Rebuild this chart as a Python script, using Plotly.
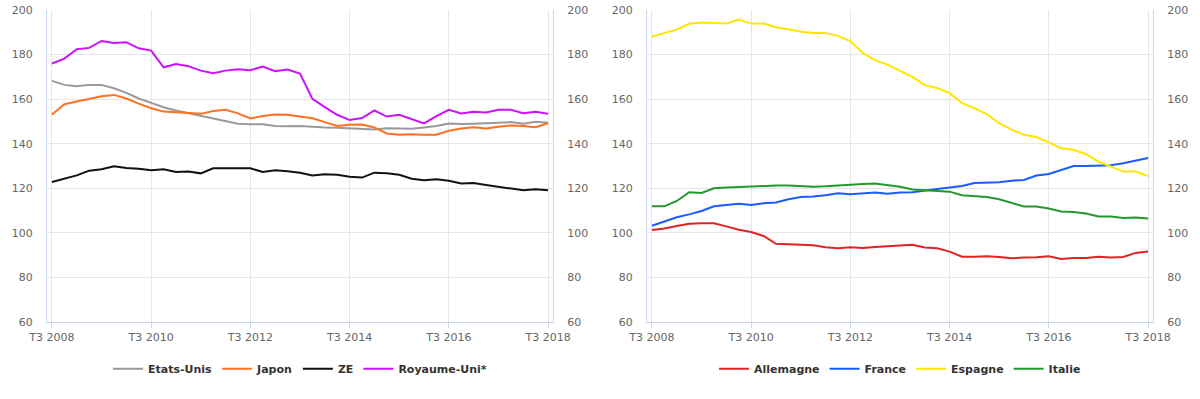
import plotly.graph_objects as go

quarters = list(range(41))
tick_pos = [0, 8, 16, 24, 32, 40]
tick_labels = ["T3 2008", "T3 2010", "T3 2012", "T3 2014", "T3 2016", "T3 2018"]

etats_unis = [168.2, 166.4, 165.8, 166.4, 166.4, 164.9, 162.8, 160.3, 158.3, 156.4,
              154.9, 153.7, 152.6, 151.6, 150.2, 149.0, 148.7, 148.7, 148.0, 147.8,
              148.0, 147.6, 147.3, 147.2, 146.9, 146.7, 146.4, 146.9, 146.9, 146.7,
              147.3, 148.0, 149.1, 148.8, 149.0, 149.3, 149.4, 149.7, 149.0, 149.9, 149.4]
japon = [153.1, 157.7, 158.9, 160.1, 161.3, 161.9, 160.3, 158.0, 155.9, 154.4,
         154.1, 153.8, 153.4, 154.7, 155.2, 153.6, 151.3, 152.4, 153.1, 153.0,
         152.1, 151.4, 149.7, 148.0, 148.5, 148.6, 147.3, 144.6, 144.0, 144.3,
         144.0, 144.0, 145.8, 146.8, 147.4, 146.8, 147.6, 148.2, 148.0, 147.4, 149.2]
ze = [122.8, 124.2, 125.8, 127.9, 128.5, 129.9, 129.1, 128.8, 128.1, 128.5,
      127.3, 127.5, 126.7, 129.0, 129.0, 129.3, 129.0, 127.3, 128.1, 127.6,
      127.0, 125.7, 126.3, 126.1, 125.2, 124.8, 127.0, 126.7, 126.1, 124.3,
      123.6, 124.0, 123.4, 122.2, 122.4, 121.5, 120.6, 119.9, 119.1, 119.6, 119.1]
royaume_uni = [176.0, 178.2, 182.4, 183.0, 186.1, 185.2, 185.5, 182.8, 181.8, 174.3,
               175.8, 174.8, 172.8, 171.6, 172.8, 173.4, 173.0, 174.6, 172.5, 173.3,
               171.5, 160.1, 156.4, 153.0, 150.6, 151.5, 154.9, 152.2, 153.0, 151.2,
               149.1, 152.4, 155.2, 153.6, 154.3, 154.0, 155.2, 155.2, 153.7, 154.3, 153.4]

allemagne = [101.3, 102.0, 103.1, 104.1, 104.3, 104.3, 102.9, 101.4, 100.4, 98.6,
             95.1, 94.8, 94.7, 94.4, 93.5, 93.1, 93.5, 93.2, 93.7, 94.1,
             94.3, 94.7, 93.4, 93.1, 91.6, 89.3, 89.3, 89.5, 89.2, 88.6,
             88.9, 89.0, 89.5, 88.3, 88.7, 88.7, 89.3, 88.9, 89.2, 91.0, 91.6]
france = [103.2, 105.0, 107.0, 108.3, 109.8, 111.9, 112.5, 113.1, 112.5, 113.3,
          113.6, 115.1, 116.1, 116.3, 116.9, 117.8, 117.3, 117.6, 118.1, 117.6,
          118.1, 118.2, 118.8, 119.7, 120.4, 121.0, 122.4, 122.5, 122.7, 123.4,
          123.7, 125.7, 126.4, 128.2, 130.0, 130.0, 130.0, 130.3, 131.2, 132.4, 133.6]
espagne = [188.1, 189.6, 191.2, 193.8, 194.4, 194.2, 193.9, 195.7, 193.9, 193.9,
           192.3, 191.4, 190.2, 189.7, 189.7, 188.4, 186.1, 180.7, 177.5, 175.5,
           172.8, 170.0, 166.3, 165.0, 162.7, 158.2, 156.0, 153.3, 149.2, 146.3,
           144.0, 143.0, 140.6, 138.0, 137.3, 135.3, 132.0, 129.8, 127.5, 127.5, 125.5]
italie = [111.9, 111.9, 114.3, 118.2, 117.9, 120.0, 120.3, 120.6, 120.9, 121.0,
          121.2, 121.3, 121.0, 120.7, 120.9, 121.3, 121.6, 121.9, 122.1, 121.5,
          120.7, 119.5, 119.1, 118.8, 118.5, 116.9, 116.6, 116.1, 115.1, 113.3,
          111.8, 111.8, 110.9, 109.6, 109.4, 108.7, 107.3, 107.3, 106.7, 106.9, 106.4]

left_series = [("Etats-Unis", etats_unis, "#999999"),
               ("Japon", japon, "#ff7020"),
               ("ZE", ze, "#111111"),
               ("Royaume-Uni*", royaume_uni, "#cc11ff")]
right_series = [("Allemagne", allemagne, "#e32222"),
                ("France", france, "#1a5cff"),
                ("Espagne", espagne, "#ffe600"),
                ("Italie", italie, "#22992a")]

fig = go.Figure()
# invisible helper traces so that the opposite (right-hand) value axes are drawn
fig.add_trace(go.Scatter(x=quarters, y=etats_unis, mode="lines", opacity=0,
                         line=dict(width=0), hoverinfo="skip", showlegend=False,
                         xaxis="x", yaxis="y2"))
fig.add_trace(go.Scatter(x=quarters, y=allemagne, mode="lines", opacity=0,
                         line=dict(width=0), hoverinfo="skip", showlegend=False,
                         xaxis="x2", yaxis="y4"))
for name, vals, col in left_series:
    fig.add_trace(go.Scatter(x=quarters, y=vals, name=name, mode="lines",
                             line=dict(color=col, width=2), xaxis="x", yaxis="y",
                             legend="legend"))
for name, vals, col in right_series:
    fig.add_trace(go.Scatter(x=quarters, y=vals, name=name, mode="lines",
                             line=dict(color=col, width=2), xaxis="x2", yaxis="y3",
                             legend="legend2"))

W, H = 1200, 399
dl = [47 / W, 553 / W]
dr = [647 / W, 1153 / W]
tickfont = dict(family="DejaVu Sans", size=11, color="#666666")
axline = "#ccd6eb"
grid = "#e6e6e6"

xcommon = dict(range=[-0.4, 40.4], tickvals=tick_pos, ticktext=tick_labels,
               showgrid=True, gridcolor=grid, gridwidth=1, showline=True,
               linecolor=axline, linewidth=1, ticks="outside", ticklen=5,
               tickcolor=axline, tickfont=tickfont, zeroline=False, fixedrange=True,
               automargin=False)
ycommon = dict(range=[60, 200], tickvals=[60, 80, 100, 120, 140, 160, 180, 200],
               gridcolor=grid, gridwidth=1, showline=True,
               linecolor=axline, linewidth=1, tickfont=tickfont, zeroline=False,
               ticks="", fixedrange=True, automargin=False, ticklabelstandoff=11)

fig.update_layout(
    width=W, height=H,
    margin=dict(l=0, r=0, t=10, b=77),
    paper_bgcolor="white", plot_bgcolor="white",
    font=dict(family="DejaVu Sans", color="#333333"),
    xaxis=dict(domain=dl, anchor="y", **xcommon),
    xaxis2=dict(domain=dr, anchor="y3", **xcommon),
    yaxis=dict(domain=[0, 1], anchor="x", side="left", showgrid=True, **ycommon),
    yaxis2=dict(overlaying="y", anchor="x", side="right", showgrid=False, **ycommon),
    yaxis3=dict(domain=[0, 1], anchor="x2", side="left", showgrid=True, **ycommon),
    yaxis4=dict(overlaying="y3", anchor="x2", side="right", showgrid=False, **ycommon),
    legend=dict(orientation="h", x=(dl[0] + dl[1]) / 2, xanchor="center",
                y=-0.15, yanchor="middle",
                font=dict(family="DejaVu Sans", size=11, color="#333333", weight="bold"),
                bgcolor="rgba(0,0,0,0)"),
    legend2=dict(orientation="h", x=(dr[0] + dr[1]) / 2, xanchor="center",
                 y=-0.15, yanchor="middle",
                 font=dict(family="DejaVu Sans", size=11, color="#333333", weight="bold"),
                 bgcolor="rgba(0,0,0,0)"),
    showlegend=True,
)

fig.write_html("out.html", config={"displayModeBar": False},
               post_script="document.body.style.margin='0';document.body.style.overflow='hidden';")
